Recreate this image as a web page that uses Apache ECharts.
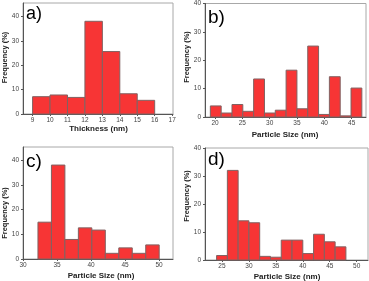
<!DOCTYPE html>
<html><head><meta charset="utf-8">
<script src="https://cdn.jsdelivr.net/npm/echarts@6/dist/echarts.min.js"></script>
<style>html,body{margin:0;padding:0;background:#fff}#c{width:369px;height:281px}</style>
</head><body><div id="c"></div>
<script>
// Panel a: thickness histogram
const aEdges = [9, 10, 11, 12, 13, 14, 15, 16];
const aValues = [7.1, 7.8, 6.8, 38.0, 25.6, 8.3, 5.6];
const aTicksX = [9, 10, 11, 12, 13, 14, 15, 16, 17];
// Panel b
const bEdges = [19.15, 21.13, 23.11, 25.09, 27.07, 29.05, 31.03, 33.01, 34.99, 36.97, 38.95, 40.93, 42.91, 44.89, 46.87];
const bValues = [3.9, 1.4, 4.4, 2.0, 13.4, 1.4, 2.4, 16.5, 2.9, 25.0, 0.9, 14.2, 0.4, 10.2];
const bTicksX = [20, 25, 30, 35, 40, 45];
// Panel c
const cEdges = [32.2, 34.18, 36.16, 38.14, 40.12, 42.1, 44.08, 46.06, 48.04, 50.02];
const cValues = [14.9, 38.0, 7.9, 12.6, 11.7, 2.3, 4.5, 2.3, 5.7];
const cTicksX = [30, 35, 40, 45, 50];
// Panel d
const dEdges = [24, 26, 28, 30, 32, 34, 36, 38, 40, 42, 44, 46, 48];
const dValues = [1.6, 32.0, 14.0, 13.3, 1.3, 1.0, 7.1, 7.1, 2.3, 9.2, 6.5, 4.7];
const dTicksX = [25, 30, 35, 40, 45, 50];
const yTicks = [0, 10, 20, 30, 40];
const panelLabels = ['a)', 'b)', 'c)', 'd)'];
const xTitles = ['Thickness (nm)', 'Particle Size (nm)', 'Particle Size (nm)', 'Particle Size (nm)'];
const yTitle = 'Frequency (%)';

function toData(edges, vals) {
  return vals.map((v, i) => [edges[i], edges[i + 1], v]);
}
function renderItem(params, api) {
  const p0 = api.coord([api.value(0), api.value(2)]);
  const p1 = api.coord([api.value(1), 0]);
  return {
    type: 'rect',
    shape: { x: p0[0], y: p0[1], width: p1[0] - p0[0], height: p1[1] - p0[1] },
    style: { fill: '#f73535', stroke: '#806262', lineWidth: 1 }
  };
}
const grids = [
  { left: 23, top: 3, width: 150, height: 111 },
  { left: 205, top: 3, width: 161, height: 114 },
  { left: 23, top: 147, width: 150, height: 112 },
  { left: 205, top: 148, width: 163, height: 112 }
];
const xr = [[8.45, 17.05], [18.17, 47.63], [30, 52.05], [21.85, 52.1]];
const yr = [45.5, 40, 45.3, 40];
const xt = [aTicksX, bTicksX, cTicksX, dTicksX];
const datas = [toData(aEdges, aValues), toData(bEdges, bValues), toData(cEdges, cValues), toData(dEdges, dValues)];
const font = 'Liberation Sans, Arial, sans-serif';

const option = {
  animation: false,
  grid: grids.map(g => Object.assign({ show: true, borderColor: '#a8a8a8', borderWidth: 1, backgroundColor: 'transparent' }, g)),
  xAxis: grids.map((g, i) => ({
    type: 'value', gridIndex: i, min: xr[i][0], max: xr[i][1],
    splitLine: { show: false },
    axisLine: { show: true, onZero: false, lineStyle: { color: '#555', width: 1 } },
    axisTick: { show: true, length: 2, inside: false, customValues: xt[i], lineStyle: { color: '#555' } },
    axisLabel: { customValues: xt[i], fontSize: 6.5, color: '#444', margin: 3, fontFamily: font }
  })),
  yAxis: grids.map((g, i) => ({
    type: 'value', gridIndex: i, min: 0, max: yr[i],
    splitLine: { show: false },
    axisLine: { show: true, lineStyle: { color: '#555', width: 1 } },
    axisTick: { show: true, length: 2, customValues: yTicks, lineStyle: { color: '#555' } },
    axisLabel: { customValues: yTicks, fontSize: 6.5, color: '#444', margin: 4, fontFamily: font }
  })),
  series: datas.map((d, i) => ({
    type: 'custom', xAxisIndex: i, yAxisIndex: i, data: d,
    encode: { x: [0, 1], y: 2 }, renderItem: renderItem
  })),
  graphic: [
    { type: 'text', left: 26, top: 5, style: { text: panelLabels[0], fontSize: 18, fontFamily: font, fill: '#000' } },
    { type: 'text', left: 208, top: 8, style: { text: panelLabels[1], fontSize: 19, fontFamily: font, fill: '#000' } },
    { type: 'text', left: 26, top: 152, style: { text: panelLabels[2], fontSize: 19, fontFamily: font, fill: '#000' } },
    { type: 'text', left: 208, top: 150, style: { text: panelLabels[3], fontSize: 19, fontFamily: font, fill: '#000' } },
    { type: 'text', x: 98.5, y: 128.3, style: { text: xTitles[0], fontSize: 8, fontWeight: 'bold', fontFamily: font, fill: '#222', align: 'center', verticalAlign: 'middle' } },
    { type: 'text', x: 285, y: 134.7, style: { text: xTitles[1], fontSize: 8, fontWeight: 'bold', fontFamily: font, fill: '#222', align: 'center', verticalAlign: 'middle' } },
    { type: 'text', x: 101, y: 275.7, style: { text: xTitles[2], fontSize: 8, fontWeight: 'bold', fontFamily: font, fill: '#222', align: 'center', verticalAlign: 'middle' } },
    { type: 'text', x: 287, y: 276.7, style: { text: xTitles[3], fontSize: 8, fontWeight: 'bold', fontFamily: font, fill: '#222', align: 'center', verticalAlign: 'middle' } },
    { type: 'text', x: 5, y: 57.5, rotation: Math.PI / 2, style: { text: yTitle, fontSize: 7.5, fontWeight: 'bold', fontFamily: font, fill: '#222', align: 'center', verticalAlign: 'middle' } },
    { type: 'text', x: 187, y: 57, rotation: Math.PI / 2, style: { text: yTitle, fontSize: 7.5, fontWeight: 'bold', fontFamily: font, fill: '#222', align: 'center', verticalAlign: 'middle' } },
    { type: 'text', x: 5, y: 213, rotation: Math.PI / 2, style: { text: yTitle, fontSize: 7.5, fontWeight: 'bold', fontFamily: font, fill: '#222', align: 'center', verticalAlign: 'middle' } },
    { type: 'text', x: 187, y: 196, rotation: Math.PI / 2, style: { text: yTitle, fontSize: 7.5, fontWeight: 'bold', fontFamily: font, fill: '#222', align: 'center', verticalAlign: 'middle' } }
  ]
};
const chart = echarts.init(document.getElementById('c'), null, { renderer: 'canvas' });
chart.setOption(option);
</script>
</body></html>
